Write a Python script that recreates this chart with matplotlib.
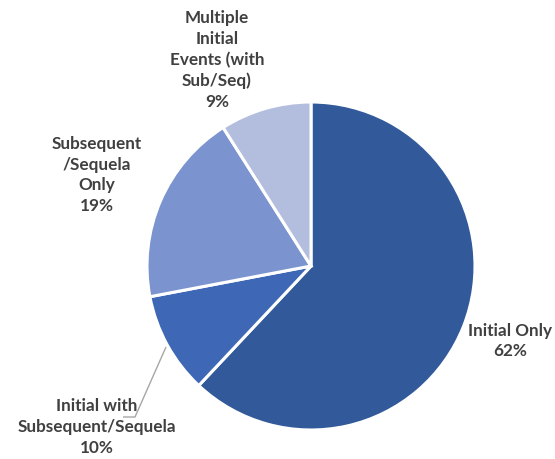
import matplotlib
matplotlib.use("Agg")
import matplotlib.pyplot as plt

# Share of patients by event pattern
categories = ["Initial Only", "Initial with\nSubsequent/Sequela",
              "Subsequent\n/Sequela\nOnly", "Multiple\nInitial\nEvents (with\nSub/Seq)"]
shares = [62, 10, 19, 9]
colors = ["#325A9B", "#3E67B5", "#7B93CF", "#B3BEDF"]

W, H = 555, 460
fig = plt.figure(figsize=(W / 100, H / 100), dpi=100)
ax = fig.add_axes([0, 0, 1, 1])
ax.set_xlim(0, W)
ax.set_ylim(0, H)
ax.set_aspect("equal")
ax.axis("off")

cx, cy, r = 311, H - 267, 164
ax.pie(shares, colors=colors, startangle=90, counterclock=False,
       center=(cx, cy), radius=r,
       wedgeprops=dict(edgecolor="white", linewidth=2.2))
ax.set_xlim(0, W)
ax.set_ylim(0, H)

label_pos = [(510, H - 341), (97, H - 427), (97, H - 175), (217, H - 60)]
txt = dict(ha="center", va="center", fontsize=12.3, fontweight="bold",
           color="#404040", family=["Lato", "DejaVu Sans"], linespacing=1.36)
for name, val, (x, y) in zip(categories, shares, label_pos):
    ax.text(x, y, f"{name}\n{val}%", **txt)

# leader line for the small slice
ax.plot([123, 135, 166], [H - 418, H - 418, H - 348], color="#A6A6A6",
        linewidth=1.0, solid_capstyle="butt")

fig.savefig("out.png", dpi=100)
